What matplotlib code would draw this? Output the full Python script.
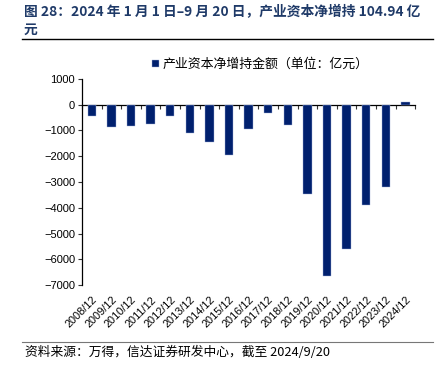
import matplotlib
matplotlib.use('Agg')
import matplotlib.pyplot as plt
import numpy as np

plt.rcParams['font.family'] = ['Liberation Sans', 'Noto Sans CJK SC', 'DejaVu Sans']
plt.rcParams['axes.unicode_minus'] = True

# data (亿元)
years = ['2008/12', '2009/12', '2010/12', '2011/12', '2012/12', '2013/12',
         '2014/12', '2015/12', '2016/12', '2017/12', '2018/12', '2019/12',
         '2020/12', '2021/12', '2022/12', '2023/12', '2024/12']
net_buy = [-440, -880, -815, -765, -440, -1085, -1460, -1950, -960, -325,
           -775, -3480, -6640, -5610, -3900, -3205, 104.94]

NAVY = '#00206E'
TITLE_C = '#1F3A68'
CJK = ['Noto Sans CJK SC', 'DejaVu Sans']

fig = plt.figure(figsize=(4.44, 3.65), dpi=100)
fig.patch.set_facecolor('white')
ax = fig.add_axes([0.185, 0.219, 0.75, 0.565])

x = np.arange(len(years))
ax.bar(x, net_buy, width=0.43, color=NAVY, edgecolor='#9FB0D8', linewidth=0.3,
       label='产业资本净增持金额（单位：亿元）', zorder=3)

ax.set_xlim(-0.5, len(years) - 0.5)
ax.set_ylim(-7000, 1000)
ax.set_yticks(np.arange(-7000, 1001, 1000))
ax.tick_params(axis='y', direction='out', length=3, width=0.8, labelsize=8,
               pad=2, color='#333333')

# zero line with boundary ticks
ax.spines['bottom'].set_position(('data', 0))
ax.spines['bottom'].set_linewidth(0.9)
ax.spines['left'].set_linewidth(0.9)
for s in ['top', 'right']:
    ax.spines[s].set_visible(False)
ax.set_xticks([])
ax.set_xticks(np.arange(-0.5, len(years)), minor=True)
ax.tick_params(axis='x', which='minor', direction='out', length=3, width=0.8,
               color='#333333')

# category labels along the bottom
sec = ax.secondary_xaxis(0)
sec.set_xticks(x)
sec.set_xticklabels(years, rotation=45, ha='right', rotation_mode='anchor',
                    fontsize=7.9)
sec.tick_params(length=0, pad=7)
sec.spines['bottom'].set_visible(False)

leg = ax.legend(loc='lower center', bbox_to_anchor=(0.535, 1.0), frameon=False,
                prop={'family': CJK, 'size': 9.3}, handlelength=0.55,
                handleheight=0.55, handletextpad=0.3, borderaxespad=0.2)

# title
fig.text(0.054, 0.987, '图 28：2024 年 1 月 1 日–9 月 20 日，产业资本净增持 104.94 亿\n元',
         ha='left', va='top', fontsize=9.9, fontweight='bold', color=TITLE_C,
         family=CJK, linespacing=1.35)
fig.add_artist(plt.Line2D([0.05, 0.975], [0.892, 0.892], color='black', lw=1.0))

# source
fig.add_artist(plt.Line2D([0.05, 0.975], [0.063, 0.063], color='#777777', lw=0.8))
fig.text(0.056, 0.035, '资料来源：万得，信达证券研发中心，截至 2024/9/20',
         ha='left', va='center', fontsize=9.2, style='italic', family=CJK)

plt.savefig('out.png', dpi=100, facecolor='white')
